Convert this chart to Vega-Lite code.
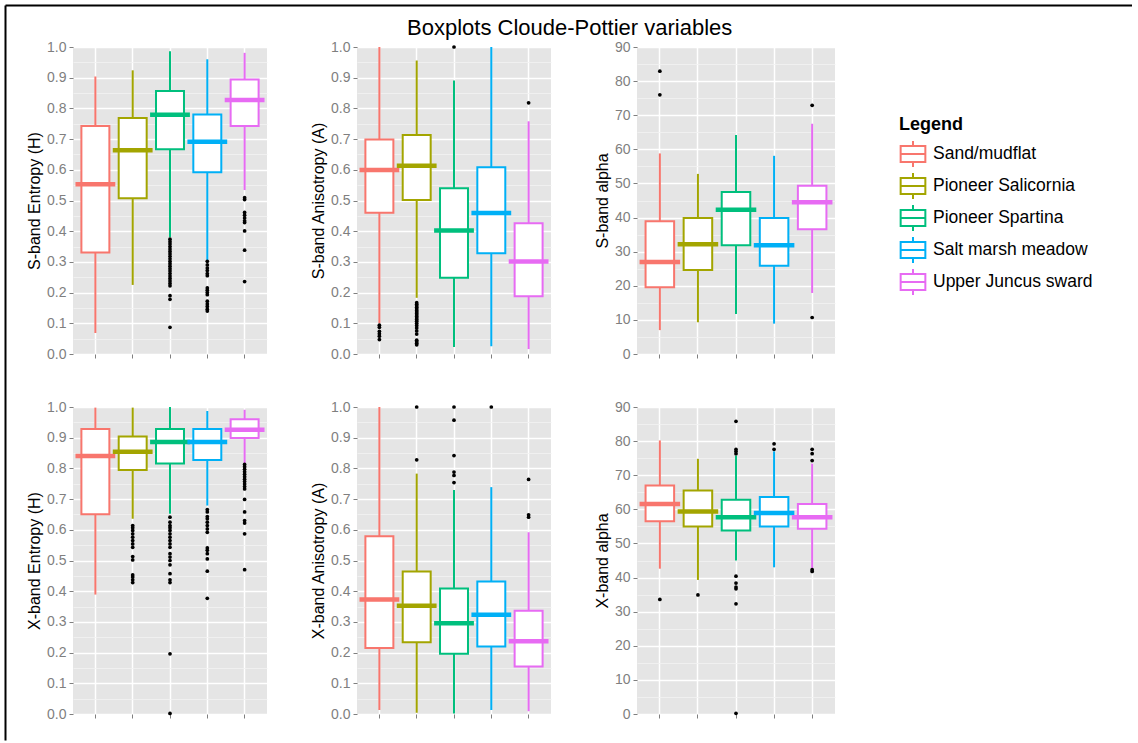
{
  "$schema": "https://vega.github.io/schema/vega-lite/v6.json",
  "padding": {"left": 5, "top": 5, "right": 0, "bottom": 0},
  "datasets": {
    "boxes": [
      {"v":"SH","g":"Sand/mudflat","lo":0.068,"q1":0.331,"med":0.553,"q3":0.743,"hi":0.904},
      {"v":"SH","g":"Pioneer Salicornia","lo":0.225,"q1":0.507,"med":0.664,"q3":0.769,"hi":0.924},
      {"v":"SH","g":"Pioneer Spartina","lo":0.38,"q1":0.667,"med":0.779,"q3":0.857,"hi":0.986},
      {"v":"SH","g":"Salt marsh meadow","lo":0.306,"q1":0.592,"med":0.691,"q3":0.78,"hi":0.96},
      {"v":"SH","g":"Upper Juncus sward","lo":0.534,"q1":0.743,"med":0.827,"q3":0.894,"hi":0.981},
      {"v":"SA","g":"Sand/mudflat","lo":0.1,"q1":0.46,"med":0.599,"q3":0.699,"hi":1.0},
      {"v":"SA","g":"Pioneer Salicornia","lo":0.183,"q1":0.502,"med":0.613,"q3":0.713,"hi":0.956},
      {"v":"SA","g":"Pioneer Spartina","lo":0.023,"q1":0.248,"med":0.402,"q3":0.54,"hi":0.891},
      {"v":"SA","g":"Salt marsh meadow","lo":0.025,"q1":0.328,"med":0.459,"q3":0.608,"hi":1.0},
      {"v":"SA","g":"Upper Juncus sward","lo":0.016,"q1":0.188,"med":0.301,"q3":0.426,"hi":0.758},
      {"v":"SP","g":"Sand/mudflat","lo":7.0,"q1":19.6,"med":27.0,"q3":38.9,"hi":58.8},
      {"v":"SP","g":"Pioneer Salicornia","lo":9.3,"q1":24.6,"med":32.2,"q3":39.9,"hi":52.8},
      {"v":"SP","g":"Pioneer Spartina","lo":11.7,"q1":31.9,"med":42.3,"q3":47.5,"hi":64.2},
      {"v":"SP","g":"Salt marsh meadow","lo":8.9,"q1":25.9,"med":31.9,"q3":39.9,"hi":58.1},
      {"v":"SP","g":"Upper Juncus sward","lo":17.9,"q1":36.6,"med":44.5,"q3":49.3,"hi":67.5},
      {"v":"XH","g":"Sand/mudflat","lo":0.389,"q1":0.651,"med":0.84,"q3":0.928,"hi":0.998},
      {"v":"XH","g":"Pioneer Salicornia","lo":0.636,"q1":0.795,"med":0.854,"q3":0.904,"hi":0.998},
      {"v":"XH","g":"Pioneer Spartina","lo":0.652,"q1":0.816,"med":0.886,"q3":0.928,"hi":1.0},
      {"v":"XH","g":"Salt marsh meadow","lo":0.679,"q1":0.827,"med":0.886,"q3":0.928,"hi":0.987},
      {"v":"XH","g":"Upper Juncus sward","lo":0.817,"q1":0.899,"med":0.926,"q3":0.96,"hi":0.991},
      {"v":"XA","g":"Sand/mudflat","lo":0.013,"q1":0.215,"med":0.373,"q3":0.579,"hi":1.0},
      {"v":"XA","g":"Pioneer Salicornia","lo":0.004,"q1":0.234,"med":0.353,"q3":0.464,"hi":0.783},
      {"v":"XA","g":"Pioneer Spartina","lo":0.002,"q1":0.196,"med":0.296,"q3":0.409,"hi":0.73},
      {"v":"XA","g":"Salt marsh meadow","lo":0.013,"q1":0.22,"med":0.323,"q3":0.432,"hi":0.739},
      {"v":"XA","g":"Upper Juncus sward","lo":0.009,"q1":0.155,"med":0.237,"q3":0.336,"hi":0.592},
      {"v":"XP","g":"Sand/mudflat","lo":42.6,"q1":56.5,"med":61.6,"q3":67.0,"hi":80.2},
      {"v":"XP","g":"Pioneer Salicornia","lo":39.3,"q1":55.0,"med":59.4,"q3":65.5,"hi":74.8},
      {"v":"XP","g":"Pioneer Spartina","lo":45.0,"q1":53.8,"med":57.7,"q3":62.8,"hi":75.8},
      {"v":"XP","g":"Salt marsh meadow","lo":43.0,"q1":55.0,"med":58.9,"q3":63.6,"hi":77.0},
      {"v":"XP","g":"Upper Juncus sward","lo":42.6,"q1":54.3,"med":57.7,"q3":61.6,"hi":73.4}
    ],
    "out": [
      {"v":"SH","g":"Pioneer Spartina","y":0.374},{"v":"SH","g":"Pioneer Spartina","y":0.366},{"v":"SH","g":"Pioneer Spartina","y":0.358},{"v":"SH","g":"Pioneer Spartina","y":0.35},{"v":"SH","g":"Pioneer Spartina","y":0.342},{"v":"SH","g":"Pioneer Spartina","y":0.334},{"v":"SH","g":"Pioneer Spartina","y":0.326},{"v":"SH","g":"Pioneer Spartina","y":0.318},{"v":"SH","g":"Pioneer Spartina","y":0.31},{"v":"SH","g":"Pioneer Spartina","y":0.302},{"v":"SH","g":"Pioneer Spartina","y":0.294},{"v":"SH","g":"Pioneer Spartina","y":0.286},{"v":"SH","g":"Pioneer Spartina","y":0.278},{"v":"SH","g":"Pioneer Spartina","y":0.27},{"v":"SH","g":"Pioneer Spartina","y":0.262},{"v":"SH","g":"Pioneer Spartina","y":0.254},{"v":"SH","g":"Pioneer Spartina","y":0.246},{"v":"SH","g":"Pioneer Spartina","y":0.238},{"v":"SH","g":"Pioneer Spartina","y":0.23},{"v":"SH","g":"Pioneer Spartina","y":0.222},{"v":"SH","g":"Pioneer Spartina","y":0.19},{"v":"SH","g":"Pioneer Spartina","y":0.178},{"v":"SH","g":"Pioneer Spartina","y":0.087},
      {"v":"SH","g":"Salt marsh meadow","y":0.302},{"v":"SH","g":"Salt marsh meadow","y":0.29},{"v":"SH","g":"Salt marsh meadow","y":0.28},{"v":"SH","g":"Salt marsh meadow","y":0.272},{"v":"SH","g":"Salt marsh meadow","y":0.262},{"v":"SH","g":"Salt marsh meadow","y":0.255},{"v":"SH","g":"Salt marsh meadow","y":0.215},{"v":"SH","g":"Salt marsh meadow","y":0.208},{"v":"SH","g":"Salt marsh meadow","y":0.2},{"v":"SH","g":"Salt marsh meadow","y":0.193},{"v":"SH","g":"Salt marsh meadow","y":0.172},{"v":"SH","g":"Salt marsh meadow","y":0.163},{"v":"SH","g":"Salt marsh meadow","y":0.155},{"v":"SH","g":"Salt marsh meadow","y":0.146},{"v":"SH","g":"Salt marsh meadow","y":0.14},
      {"v":"SH","g":"Upper Juncus sward","y":0.509},{"v":"SH","g":"Upper Juncus sward","y":0.503},{"v":"SH","g":"Upper Juncus sward","y":0.461},{"v":"SH","g":"Upper Juncus sward","y":0.452},{"v":"SH","g":"Upper Juncus sward","y":0.443},{"v":"SH","g":"Upper Juncus sward","y":0.434},{"v":"SH","g":"Upper Juncus sward","y":0.428},{"v":"SH","g":"Upper Juncus sward","y":0.401},{"v":"SH","g":"Upper Juncus sward","y":0.338},{"v":"SH","g":"Upper Juncus sward","y":0.236},
      {"v":"SA","g":"Sand/mudflat","y":0.094},{"v":"SA","g":"Sand/mudflat","y":0.087},{"v":"SA","g":"Sand/mudflat","y":0.074},{"v":"SA","g":"Sand/mudflat","y":0.066},{"v":"SA","g":"Sand/mudflat","y":0.058},{"v":"SA","g":"Sand/mudflat","y":0.047},
      {"v":"SA","g":"Pioneer Salicornia","y":0.167},{"v":"SA","g":"Pioneer Salicornia","y":0.162},{"v":"SA","g":"Pioneer Salicornia","y":0.157},{"v":"SA","g":"Pioneer Salicornia","y":0.152},{"v":"SA","g":"Pioneer Salicornia","y":0.147},{"v":"SA","g":"Pioneer Salicornia","y":0.142},{"v":"SA","g":"Pioneer Salicornia","y":0.137},{"v":"SA","g":"Pioneer Salicornia","y":0.132},{"v":"SA","g":"Pioneer Salicornia","y":0.127},{"v":"SA","g":"Pioneer Salicornia","y":0.122},{"v":"SA","g":"Pioneer Salicornia","y":0.117},{"v":"SA","g":"Pioneer Salicornia","y":0.112},{"v":"SA","g":"Pioneer Salicornia","y":0.107},{"v":"SA","g":"Pioneer Salicornia","y":0.1},{"v":"SA","g":"Pioneer Salicornia","y":0.093},{"v":"SA","g":"Pioneer Salicornia","y":0.085},{"v":"SA","g":"Pioneer Salicornia","y":0.075},{"v":"SA","g":"Pioneer Salicornia","y":0.065},{"v":"SA","g":"Pioneer Salicornia","y":0.045},{"v":"SA","g":"Pioneer Salicornia","y":0.04},{"v":"SA","g":"Pioneer Salicornia","y":0.035},{"v":"SA","g":"Pioneer Salicornia","y":0.03},
      {"v":"SA","g":"Pioneer Spartina","y":1.0},{"v":"SA","g":"Upper Juncus sward","y":0.818},
      {"v":"SP","g":"Sand/mudflat","y":82.9},{"v":"SP","g":"Sand/mudflat","y":76.0},{"v":"SP","g":"Upper Juncus sward","y":72.9},{"v":"SP","g":"Upper Juncus sward","y":10.7},
      {"v":"XH","g":"Pioneer Salicornia","y":0.614},{"v":"XH","g":"Pioneer Salicornia","y":0.607},{"v":"XH","g":"Pioneer Salicornia","y":0.598},{"v":"XH","g":"Pioneer Salicornia","y":0.587},{"v":"XH","g":"Pioneer Salicornia","y":0.576},{"v":"XH","g":"Pioneer Salicornia","y":0.565},{"v":"XH","g":"Pioneer Salicornia","y":0.554},{"v":"XH","g":"Pioneer Salicornia","y":0.543},{"v":"XH","g":"Pioneer Salicornia","y":0.513},{"v":"XH","g":"Pioneer Salicornia","y":0.502},{"v":"XH","g":"Pioneer Salicornia","y":0.453},{"v":"XH","g":"Pioneer Salicornia","y":0.446},{"v":"XH","g":"Pioneer Salicornia","y":0.437},{"v":"XH","g":"Pioneer Salicornia","y":0.428},
      {"v":"XH","g":"Pioneer Spartina","y":0.641},{"v":"XH","g":"Pioneer Spartina","y":0.625},{"v":"XH","g":"Pioneer Spartina","y":0.614},{"v":"XH","g":"Pioneer Spartina","y":0.607},{"v":"XH","g":"Pioneer Spartina","y":0.598},{"v":"XH","g":"Pioneer Spartina","y":0.587},{"v":"XH","g":"Pioneer Spartina","y":0.576},{"v":"XH","g":"Pioneer Spartina","y":0.565},{"v":"XH","g":"Pioneer Spartina","y":0.554},{"v":"XH","g":"Pioneer Spartina","y":0.543},{"v":"XH","g":"Pioneer Spartina","y":0.522},{"v":"XH","g":"Pioneer Spartina","y":0.511},{"v":"XH","g":"Pioneer Spartina","y":0.5},{"v":"XH","g":"Pioneer Spartina","y":0.486},{"v":"XH","g":"Pioneer Spartina","y":0.457},{"v":"XH","g":"Pioneer Spartina","y":0.437},{"v":"XH","g":"Pioneer Spartina","y":0.428},{"v":"XH","g":"Pioneer Spartina","y":0.196},{"v":"XH","g":"Pioneer Spartina","y":0.002},
      {"v":"XH","g":"Salt marsh meadow","y":0.666},{"v":"XH","g":"Salt marsh meadow","y":0.658},{"v":"XH","g":"Salt marsh meadow","y":0.643},{"v":"XH","g":"Salt marsh meadow","y":0.636},{"v":"XH","g":"Salt marsh meadow","y":0.625},{"v":"XH","g":"Salt marsh meadow","y":0.614},{"v":"XH","g":"Salt marsh meadow","y":0.603},{"v":"XH","g":"Salt marsh meadow","y":0.592},{"v":"XH","g":"Salt marsh meadow","y":0.541},{"v":"XH","g":"Salt marsh meadow","y":0.533},{"v":"XH","g":"Salt marsh meadow","y":0.522},{"v":"XH","g":"Salt marsh meadow","y":0.505},{"v":"XH","g":"Salt marsh meadow","y":0.465},{"v":"XH","g":"Salt marsh meadow","y":0.377},
      {"v":"XH","g":"Upper Juncus sward","y":0.813},{"v":"XH","g":"Upper Juncus sward","y":0.805},{"v":"XH","g":"Upper Juncus sward","y":0.797},{"v":"XH","g":"Upper Juncus sward","y":0.789},{"v":"XH","g":"Upper Juncus sward","y":0.781},{"v":"XH","g":"Upper Juncus sward","y":0.773},{"v":"XH","g":"Upper Juncus sward","y":0.765},{"v":"XH","g":"Upper Juncus sward","y":0.757},{"v":"XH","g":"Upper Juncus sward","y":0.749},{"v":"XH","g":"Upper Juncus sward","y":0.741},{"v":"XH","g":"Upper Juncus sward","y":0.733},{"v":"XH","g":"Upper Juncus sward","y":0.699},{"v":"XH","g":"Upper Juncus sward","y":0.658},{"v":"XH","g":"Upper Juncus sward","y":0.63},{"v":"XH","g":"Upper Juncus sward","y":0.622},{"v":"XH","g":"Upper Juncus sward","y":0.587},{"v":"XH","g":"Upper Juncus sward","y":0.47},
      {"v":"XA","g":"Pioneer Salicornia","y":1.0},{"v":"XA","g":"Pioneer Salicornia","y":0.828},
      {"v":"XA","g":"Pioneer Spartina","y":1.0},{"v":"XA","g":"Pioneer Spartina","y":0.957},{"v":"XA","g":"Pioneer Spartina","y":0.842},{"v":"XA","g":"Pioneer Spartina","y":0.788},{"v":"XA","g":"Pioneer Spartina","y":0.777},{"v":"XA","g":"Pioneer Spartina","y":0.754},
      {"v":"XA","g":"Salt marsh meadow","y":1.0},
      {"v":"XA","g":"Upper Juncus sward","y":0.764},{"v":"XA","g":"Upper Juncus sward","y":0.649},{"v":"XA","g":"Upper Juncus sward","y":0.641},
      {"v":"XP","g":"Sand/mudflat","y":33.6},{"v":"XP","g":"Pioneer Salicornia","y":34.9},
      {"v":"XP","g":"Pioneer Spartina","y":85.8},{"v":"XP","g":"Pioneer Spartina","y":77.6},{"v":"XP","g":"Pioneer Spartina","y":77.0},{"v":"XP","g":"Pioneer Spartina","y":76.3},{"v":"XP","g":"Pioneer Spartina","y":40.4},{"v":"XP","g":"Pioneer Spartina","y":38.4},{"v":"XP","g":"Pioneer Spartina","y":37.2},{"v":"XP","g":"Pioneer Spartina","y":36.7},{"v":"XP","g":"Pioneer Spartina","y":32.3},{"v":"XP","g":"Pioneer Spartina","y":0.2},
      {"v":"XP","g":"Salt marsh meadow","y":79.2},{"v":"XP","g":"Salt marsh meadow","y":77.6},
      {"v":"XP","g":"Upper Juncus sward","y":77.6},{"v":"XP","g":"Upper Juncus sward","y":76.3},{"v":"XP","g":"Upper Juncus sward","y":74.3},{"v":"XP","g":"Upper Juncus sward","y":42.3},{"v":"XP","g":"Upper Juncus sward","y":41.8}
    ]
  },
  "bounds": "flush",
  "spacing": 67,
  "hconcat": [
    {"width": 1, "height": 307, "view": {"fill": null, "stroke": null}, "data": {"values": []}, "mark": {"type": "point"},
     "encoding": {
       "x": {"field": "a", "type": "quantitative", "scale": {"domain": [0, 1], "range": [0, 1127]}, "axis": {"orient": "top", "offset": 42, "domain": true, "domainColor": "#000000", "domainWidth": 2, "ticks": false, "labels": false, "grid": false, "title": null}},
       "y": {"field": "b", "type": "quantitative", "scale": {"domain": [0, 1], "range": [693, -42]}, "axis": {"orient": "left", "domain": true, "domainColor": "#000000", "domainWidth": 2, "ticks": false, "labels": false, "grid": false, "title": null}}}},
    {
    "title": {"text": "Boxplots Cloude-Pottier variables", "fontSize": 22, "font": "Arial", "fontWeight": "normal", "color": "#000000", "anchor": "start", "frame": "group", "dx": 334, "offset": 0},
    "columns": 3,
    "spacing": {"row": 39, "column": 43},
    "concat": [
    {"width": 194, "height": 307,
     "encoding": {
       "x": {"field": "g", "type": "nominal", "sort": null, "scale": {"domain": ["Sand/mudflat","Pioneer Salicornia","Pioneer Spartina","Salt marsh meadow","Upper Juncus sward"], "paddingInner": 0, "paddingOuter": 0.1}, "axis": {"title": null, "labels": false, "domain": false, "grid": true, "gridColor": "#FFFFFF", "gridWidth": 1.5, "bandPosition": 0.5}},
       "color": {"field": "g", "type": "nominal", "scale": {"domain": ["Sand/mudflat","Pioneer Salicornia","Pioneer Spartina","Salt marsh meadow","Upper Juncus sward"], "range": ["#F8766D","#A3A500","#00BF7D","#00B0F6","#E76BF3"]}, "legend": {"title": "Legend", "orient": "none", "legendX": 894, "legendY": 69, "encode": {"symbols": {"update": {"fill": {"value": "#FFFFFF"}, "strokeWidth": {"value": 2}}}}}}},
     "layer": [
      {"data": {"name": "boxes"}, "transform": [{"filter": "datum.v == 'SH'"}], "mark": {"type": "rule", "strokeWidth": 2},
       "encoding": {"y": {"field": "lo", "type": "quantitative", "scale": {"domain": [0, 1], "nice": false}, "axis": {"title": "S-band Entropy (H)", "values": [0,0.05,0.1,0.15,0.2,0.25,0.3,0.35,0.4,0.45,0.5,0.55,0.6,0.65,0.7,0.75,0.8,0.85,0.9,0.95,1], "labelOverlap": false, "labelExpr": "round(datum.value*20)%2==1 ? '' : format(datum.value, '.1f')", "gridColor": {"condition": {"test": "round(datum.value*20)%2==1", "value": "#F2F2F2"}, "value": "#FFFFFF"}, "gridWidth": {"condition": {"test": "round(datum.value*20)%2==1", "value": 0.8}, "value": 1.5}, "tickOpacity": {"condition": {"test": "round(datum.value*20)%2==1", "value": 0}, "value": 1}}}, "y2": {"field": "hi"}}},
      {"data": {"name": "boxes"}, "transform": [{"filter": "datum.v == 'SH'"}], "mark": {"type": "bar", "filled": false, "fill": "#FFFFFF", "strokeWidth": 2, "width": {"band": 0.75}},
       "encoding": {"y": {"field": "q1", "type": "quantitative", "axis": {"title": "S-band Entropy (H)", "values": [0,0.05,0.1,0.15,0.2,0.25,0.3,0.35,0.4,0.45,0.5,0.55,0.6,0.65,0.7,0.75,0.8,0.85,0.9,0.95,1], "labelOverlap": false, "labelExpr": "round(datum.value*20)%2==1 ? '' : format(datum.value, '.1f')", "gridColor": {"condition": {"test": "round(datum.value*20)%2==1", "value": "#F2F2F2"}, "value": "#FFFFFF"}, "gridWidth": {"condition": {"test": "round(datum.value*20)%2==1", "value": 0.8}, "value": 1.5}, "tickOpacity": {"condition": {"test": "round(datum.value*20)%2==1", "value": 0}, "value": 1}}}, "y2": {"field": "q3"}}},
      {"data": {"name": "boxes"}, "transform": [{"filter": "datum.v == 'SH'"}], "mark": {"type": "tick", "filled": false, "thickness": 2, "strokeWidth": 2.5, "opacity": 1},
       "encoding": {"y": {"field": "med", "type": "quantitative", "axis": {"title": "S-band Entropy (H)", "values": [0,0.05,0.1,0.15,0.2,0.25,0.3,0.35,0.4,0.45,0.5,0.55,0.6,0.65,0.7,0.75,0.8,0.85,0.9,0.95,1], "labelOverlap": false, "labelExpr": "round(datum.value*20)%2==1 ? '' : format(datum.value, '.1f')", "gridColor": {"condition": {"test": "round(datum.value*20)%2==1", "value": "#F2F2F2"}, "value": "#FFFFFF"}, "gridWidth": {"condition": {"test": "round(datum.value*20)%2==1", "value": 0.8}, "value": 1.5}, "tickOpacity": {"condition": {"test": "round(datum.value*20)%2==1", "value": 0}, "value": 1}}}}},
      {"data": {"name": "out"}, "transform": [{"filter": "datum.v == 'SH'"}], "mark": {"type": "point", "filled": true, "opacity": 1, "size": 14},
       "encoding": {"color": {"value": "#000000"}, "y": {"field": "y", "type": "quantitative", "axis": {"title": "S-band Entropy (H)", "values": [0,0.05,0.1,0.15,0.2,0.25,0.3,0.35,0.4,0.45,0.5,0.55,0.6,0.65,0.7,0.75,0.8,0.85,0.9,0.95,1], "labelOverlap": false, "labelExpr": "round(datum.value*20)%2==1 ? '' : format(datum.value, '.1f')", "gridColor": {"condition": {"test": "round(datum.value*20)%2==1", "value": "#F2F2F2"}, "value": "#FFFFFF"}, "gridWidth": {"condition": {"test": "round(datum.value*20)%2==1", "value": 0.8}, "value": 1.5}, "tickOpacity": {"condition": {"test": "round(datum.value*20)%2==1", "value": 0}, "value": 1}}}}}
    ]},
    {"width": 194, "height": 307,
     "encoding": {
       "x": {"field": "g", "type": "nominal", "sort": null, "scale": {"domain": ["Sand/mudflat","Pioneer Salicornia","Pioneer Spartina","Salt marsh meadow","Upper Juncus sward"], "paddingInner": 0, "paddingOuter": 0.1}, "axis": {"title": null, "labels": false, "domain": false, "grid": true, "gridColor": "#FFFFFF", "gridWidth": 1.5, "bandPosition": 0.5}},
       "color": {"field": "g", "type": "nominal"}},
     "layer": [
      {"data": {"name": "boxes"}, "transform": [{"filter": "datum.v == 'SA'"}], "mark": {"type": "rule", "strokeWidth": 2},
       "encoding": {"y": {"field": "lo", "type": "quantitative", "scale": {"domain": [0, 1], "nice": false}, "axis": {"title": "S-band Anisotropy (A)", "values": [0,0.05,0.1,0.15,0.2,0.25,0.3,0.35,0.4,0.45,0.5,0.55,0.6,0.65,0.7,0.75,0.8,0.85,0.9,0.95,1], "labelOverlap": false, "labelExpr": "round(datum.value*20)%2==1 ? '' : format(datum.value, '.1f')", "gridColor": {"condition": {"test": "round(datum.value*20)%2==1", "value": "#F2F2F2"}, "value": "#FFFFFF"}, "gridWidth": {"condition": {"test": "round(datum.value*20)%2==1", "value": 0.8}, "value": 1.5}, "tickOpacity": {"condition": {"test": "round(datum.value*20)%2==1", "value": 0}, "value": 1}}}, "y2": {"field": "hi"}}},
      {"data": {"name": "boxes"}, "transform": [{"filter": "datum.v == 'SA'"}], "mark": {"type": "bar", "filled": false, "fill": "#FFFFFF", "strokeWidth": 2, "width": {"band": 0.75}},
       "encoding": {"y": {"field": "q1", "type": "quantitative", "axis": {"title": "S-band Anisotropy (A)", "values": [0,0.05,0.1,0.15,0.2,0.25,0.3,0.35,0.4,0.45,0.5,0.55,0.6,0.65,0.7,0.75,0.8,0.85,0.9,0.95,1], "labelOverlap": false, "labelExpr": "round(datum.value*20)%2==1 ? '' : format(datum.value, '.1f')", "gridColor": {"condition": {"test": "round(datum.value*20)%2==1", "value": "#F2F2F2"}, "value": "#FFFFFF"}, "gridWidth": {"condition": {"test": "round(datum.value*20)%2==1", "value": 0.8}, "value": 1.5}, "tickOpacity": {"condition": {"test": "round(datum.value*20)%2==1", "value": 0}, "value": 1}}}, "y2": {"field": "q3"}}},
      {"data": {"name": "boxes"}, "transform": [{"filter": "datum.v == 'SA'"}], "mark": {"type": "tick", "filled": false, "thickness": 2, "strokeWidth": 2.5, "opacity": 1},
       "encoding": {"y": {"field": "med", "type": "quantitative", "axis": {"title": "S-band Anisotropy (A)", "values": [0,0.05,0.1,0.15,0.2,0.25,0.3,0.35,0.4,0.45,0.5,0.55,0.6,0.65,0.7,0.75,0.8,0.85,0.9,0.95,1], "labelOverlap": false, "labelExpr": "round(datum.value*20)%2==1 ? '' : format(datum.value, '.1f')", "gridColor": {"condition": {"test": "round(datum.value*20)%2==1", "value": "#F2F2F2"}, "value": "#FFFFFF"}, "gridWidth": {"condition": {"test": "round(datum.value*20)%2==1", "value": 0.8}, "value": 1.5}, "tickOpacity": {"condition": {"test": "round(datum.value*20)%2==1", "value": 0}, "value": 1}}}}},
      {"data": {"name": "out"}, "transform": [{"filter": "datum.v == 'SA'"}], "mark": {"type": "point", "filled": true, "opacity": 1, "size": 14},
       "encoding": {"color": {"value": "#000000"}, "y": {"field": "y", "type": "quantitative", "axis": {"title": "S-band Anisotropy (A)", "values": [0,0.05,0.1,0.15,0.2,0.25,0.3,0.35,0.4,0.45,0.5,0.55,0.6,0.65,0.7,0.75,0.8,0.85,0.9,0.95,1], "labelOverlap": false, "labelExpr": "round(datum.value*20)%2==1 ? '' : format(datum.value, '.1f')", "gridColor": {"condition": {"test": "round(datum.value*20)%2==1", "value": "#F2F2F2"}, "value": "#FFFFFF"}, "gridWidth": {"condition": {"test": "round(datum.value*20)%2==1", "value": 0.8}, "value": 1.5}, "tickOpacity": {"condition": {"test": "round(datum.value*20)%2==1", "value": 0}, "value": 1}}}}}
    ]},
    {"width": 198, "height": 307,
     "encoding": {
       "x": {"field": "g", "type": "nominal", "sort": null, "scale": {"domain": ["Sand/mudflat","Pioneer Salicornia","Pioneer Spartina","Salt marsh meadow","Upper Juncus sward"], "paddingInner": 0, "paddingOuter": 0.1}, "axis": {"title": null, "labels": false, "domain": false, "grid": true, "gridColor": "#FFFFFF", "gridWidth": 1.5, "bandPosition": 0.5}},
       "color": {"field": "g", "type": "nominal"}},
     "layer": [
      {"data": {"name": "boxes"}, "transform": [{"filter": "datum.v == 'SP'"}], "mark": {"type": "rule", "strokeWidth": 2},
       "encoding": {"y": {"field": "lo", "type": "quantitative", "scale": {"domain": [0, 90], "nice": false}, "axis": {"title": "S-band alpha", "values": [0,5,10,15,20,25,30,35,40,45,50,55,60,65,70,75,80,85,90], "labelOverlap": false, "labelExpr": "datum.value%10!=0 ? '' : format(datum.value, 'd')", "gridColor": {"condition": {"test": "datum.value%10!=0", "value": "#F2F2F2"}, "value": "#FFFFFF"}, "gridWidth": {"condition": {"test": "datum.value%10!=0", "value": 0.8}, "value": 1.5}, "tickOpacity": {"condition": {"test": "datum.value%10!=0", "value": 0}, "value": 1}}}, "y2": {"field": "hi"}}},
      {"data": {"name": "boxes"}, "transform": [{"filter": "datum.v == 'SP'"}], "mark": {"type": "bar", "filled": false, "fill": "#FFFFFF", "strokeWidth": 2, "width": {"band": 0.75}},
       "encoding": {"y": {"field": "q1", "type": "quantitative", "axis": {"title": "S-band alpha", "values": [0,5,10,15,20,25,30,35,40,45,50,55,60,65,70,75,80,85,90], "labelOverlap": false, "labelExpr": "datum.value%10!=0 ? '' : format(datum.value, 'd')", "gridColor": {"condition": {"test": "datum.value%10!=0", "value": "#F2F2F2"}, "value": "#FFFFFF"}, "gridWidth": {"condition": {"test": "datum.value%10!=0", "value": 0.8}, "value": 1.5}, "tickOpacity": {"condition": {"test": "datum.value%10!=0", "value": 0}, "value": 1}}}, "y2": {"field": "q3"}}},
      {"data": {"name": "boxes"}, "transform": [{"filter": "datum.v == 'SP'"}], "mark": {"type": "tick", "filled": false, "thickness": 2, "strokeWidth": 2.5, "opacity": 1},
       "encoding": {"y": {"field": "med", "type": "quantitative", "axis": {"title": "S-band alpha", "values": [0,5,10,15,20,25,30,35,40,45,50,55,60,65,70,75,80,85,90], "labelOverlap": false, "labelExpr": "datum.value%10!=0 ? '' : format(datum.value, 'd')", "gridColor": {"condition": {"test": "datum.value%10!=0", "value": "#F2F2F2"}, "value": "#FFFFFF"}, "gridWidth": {"condition": {"test": "datum.value%10!=0", "value": 0.8}, "value": 1.5}, "tickOpacity": {"condition": {"test": "datum.value%10!=0", "value": 0}, "value": 1}}}}},
      {"data": {"name": "out"}, "transform": [{"filter": "datum.v == 'SP'"}], "mark": {"type": "point", "filled": true, "opacity": 1, "size": 14},
       "encoding": {"color": {"value": "#000000"}, "y": {"field": "y", "type": "quantitative", "axis": {"title": "S-band alpha", "values": [0,5,10,15,20,25,30,35,40,45,50,55,60,65,70,75,80,85,90], "labelOverlap": false, "labelExpr": "datum.value%10!=0 ? '' : format(datum.value, 'd')", "gridColor": {"condition": {"test": "datum.value%10!=0", "value": "#F2F2F2"}, "value": "#FFFFFF"}, "gridWidth": {"condition": {"test": "datum.value%10!=0", "value": 0.8}, "value": 1.5}, "tickOpacity": {"condition": {"test": "datum.value%10!=0", "value": 0}, "value": 1}}}}}
    ]},
    {"width": 194, "height": 307,
     "encoding": {
       "x": {"field": "g", "type": "nominal", "sort": null, "scale": {"domain": ["Sand/mudflat","Pioneer Salicornia","Pioneer Spartina","Salt marsh meadow","Upper Juncus sward"], "paddingInner": 0, "paddingOuter": 0.1}, "axis": {"title": null, "labels": false, "domain": false, "grid": true, "gridColor": "#FFFFFF", "gridWidth": 1.5, "bandPosition": 0.5}},
       "color": {"field": "g", "type": "nominal"}},
     "layer": [
      {"data": {"name": "boxes"}, "transform": [{"filter": "datum.v == 'XH'"}], "mark": {"type": "rule", "strokeWidth": 2},
       "encoding": {"y": {"field": "lo", "type": "quantitative", "scale": {"domain": [0, 1], "nice": false}, "axis": {"title": "X-band Entropy (H)", "values": [0,0.05,0.1,0.15,0.2,0.25,0.3,0.35,0.4,0.45,0.5,0.55,0.6,0.65,0.7,0.75,0.8,0.85,0.9,0.95,1], "labelOverlap": false, "labelExpr": "round(datum.value*20)%2==1 ? '' : format(datum.value, '.1f')", "gridColor": {"condition": {"test": "round(datum.value*20)%2==1", "value": "#F2F2F2"}, "value": "#FFFFFF"}, "gridWidth": {"condition": {"test": "round(datum.value*20)%2==1", "value": 0.8}, "value": 1.5}, "tickOpacity": {"condition": {"test": "round(datum.value*20)%2==1", "value": 0}, "value": 1}}}, "y2": {"field": "hi"}}},
      {"data": {"name": "boxes"}, "transform": [{"filter": "datum.v == 'XH'"}], "mark": {"type": "bar", "filled": false, "fill": "#FFFFFF", "strokeWidth": 2, "width": {"band": 0.75}},
       "encoding": {"y": {"field": "q1", "type": "quantitative", "axis": {"title": "X-band Entropy (H)", "values": [0,0.05,0.1,0.15,0.2,0.25,0.3,0.35,0.4,0.45,0.5,0.55,0.6,0.65,0.7,0.75,0.8,0.85,0.9,0.95,1], "labelOverlap": false, "labelExpr": "round(datum.value*20)%2==1 ? '' : format(datum.value, '.1f')", "gridColor": {"condition": {"test": "round(datum.value*20)%2==1", "value": "#F2F2F2"}, "value": "#FFFFFF"}, "gridWidth": {"condition": {"test": "round(datum.value*20)%2==1", "value": 0.8}, "value": 1.5}, "tickOpacity": {"condition": {"test": "round(datum.value*20)%2==1", "value": 0}, "value": 1}}}, "y2": {"field": "q3"}}},
      {"data": {"name": "boxes"}, "transform": [{"filter": "datum.v == 'XH'"}], "mark": {"type": "tick", "filled": false, "thickness": 2, "strokeWidth": 2.5, "opacity": 1},
       "encoding": {"y": {"field": "med", "type": "quantitative", "axis": {"title": "X-band Entropy (H)", "values": [0,0.05,0.1,0.15,0.2,0.25,0.3,0.35,0.4,0.45,0.5,0.55,0.6,0.65,0.7,0.75,0.8,0.85,0.9,0.95,1], "labelOverlap": false, "labelExpr": "round(datum.value*20)%2==1 ? '' : format(datum.value, '.1f')", "gridColor": {"condition": {"test": "round(datum.value*20)%2==1", "value": "#F2F2F2"}, "value": "#FFFFFF"}, "gridWidth": {"condition": {"test": "round(datum.value*20)%2==1", "value": 0.8}, "value": 1.5}, "tickOpacity": {"condition": {"test": "round(datum.value*20)%2==1", "value": 0}, "value": 1}}}}},
      {"data": {"name": "out"}, "transform": [{"filter": "datum.v == 'XH'"}], "mark": {"type": "point", "filled": true, "opacity": 1, "size": 14},
       "encoding": {"color": {"value": "#000000"}, "y": {"field": "y", "type": "quantitative", "axis": {"title": "X-band Entropy (H)", "values": [0,0.05,0.1,0.15,0.2,0.25,0.3,0.35,0.4,0.45,0.5,0.55,0.6,0.65,0.7,0.75,0.8,0.85,0.9,0.95,1], "labelOverlap": false, "labelExpr": "round(datum.value*20)%2==1 ? '' : format(datum.value, '.1f')", "gridColor": {"condition": {"test": "round(datum.value*20)%2==1", "value": "#F2F2F2"}, "value": "#FFFFFF"}, "gridWidth": {"condition": {"test": "round(datum.value*20)%2==1", "value": 0.8}, "value": 1.5}, "tickOpacity": {"condition": {"test": "round(datum.value*20)%2==1", "value": 0}, "value": 1}}}}}
    ]},
    {"width": 194, "height": 307,
     "encoding": {
       "x": {"field": "g", "type": "nominal", "sort": null, "scale": {"domain": ["Sand/mudflat","Pioneer Salicornia","Pioneer Spartina","Salt marsh meadow","Upper Juncus sward"], "paddingInner": 0, "paddingOuter": 0.1}, "axis": {"title": null, "labels": false, "domain": false, "grid": true, "gridColor": "#FFFFFF", "gridWidth": 1.5, "bandPosition": 0.5}},
       "color": {"field": "g", "type": "nominal"}},
     "layer": [
      {"data": {"name": "boxes"}, "transform": [{"filter": "datum.v == 'XA'"}], "mark": {"type": "rule", "strokeWidth": 2},
       "encoding": {"y": {"field": "lo", "type": "quantitative", "scale": {"domain": [0, 1], "nice": false}, "axis": {"title": "X-band Anisotropy (A)", "values": [0,0.05,0.1,0.15,0.2,0.25,0.3,0.35,0.4,0.45,0.5,0.55,0.6,0.65,0.7,0.75,0.8,0.85,0.9,0.95,1], "labelOverlap": false, "labelExpr": "round(datum.value*20)%2==1 ? '' : format(datum.value, '.1f')", "gridColor": {"condition": {"test": "round(datum.value*20)%2==1", "value": "#F2F2F2"}, "value": "#FFFFFF"}, "gridWidth": {"condition": {"test": "round(datum.value*20)%2==1", "value": 0.8}, "value": 1.5}, "tickOpacity": {"condition": {"test": "round(datum.value*20)%2==1", "value": 0}, "value": 1}}}, "y2": {"field": "hi"}}},
      {"data": {"name": "boxes"}, "transform": [{"filter": "datum.v == 'XA'"}], "mark": {"type": "bar", "filled": false, "fill": "#FFFFFF", "strokeWidth": 2, "width": {"band": 0.75}},
       "encoding": {"y": {"field": "q1", "type": "quantitative", "axis": {"title": "X-band Anisotropy (A)", "values": [0,0.05,0.1,0.15,0.2,0.25,0.3,0.35,0.4,0.45,0.5,0.55,0.6,0.65,0.7,0.75,0.8,0.85,0.9,0.95,1], "labelOverlap": false, "labelExpr": "round(datum.value*20)%2==1 ? '' : format(datum.value, '.1f')", "gridColor": {"condition": {"test": "round(datum.value*20)%2==1", "value": "#F2F2F2"}, "value": "#FFFFFF"}, "gridWidth": {"condition": {"test": "round(datum.value*20)%2==1", "value": 0.8}, "value": 1.5}, "tickOpacity": {"condition": {"test": "round(datum.value*20)%2==1", "value": 0}, "value": 1}}}, "y2": {"field": "q3"}}},
      {"data": {"name": "boxes"}, "transform": [{"filter": "datum.v == 'XA'"}], "mark": {"type": "tick", "filled": false, "thickness": 2, "strokeWidth": 2.5, "opacity": 1},
       "encoding": {"y": {"field": "med", "type": "quantitative", "axis": {"title": "X-band Anisotropy (A)", "values": [0,0.05,0.1,0.15,0.2,0.25,0.3,0.35,0.4,0.45,0.5,0.55,0.6,0.65,0.7,0.75,0.8,0.85,0.9,0.95,1], "labelOverlap": false, "labelExpr": "round(datum.value*20)%2==1 ? '' : format(datum.value, '.1f')", "gridColor": {"condition": {"test": "round(datum.value*20)%2==1", "value": "#F2F2F2"}, "value": "#FFFFFF"}, "gridWidth": {"condition": {"test": "round(datum.value*20)%2==1", "value": 0.8}, "value": 1.5}, "tickOpacity": {"condition": {"test": "round(datum.value*20)%2==1", "value": 0}, "value": 1}}}}},
      {"data": {"name": "out"}, "transform": [{"filter": "datum.v == 'XA'"}], "mark": {"type": "point", "filled": true, "opacity": 1, "size": 14},
       "encoding": {"color": {"value": "#000000"}, "y": {"field": "y", "type": "quantitative", "axis": {"title": "X-band Anisotropy (A)", "values": [0,0.05,0.1,0.15,0.2,0.25,0.3,0.35,0.4,0.45,0.5,0.55,0.6,0.65,0.7,0.75,0.8,0.85,0.9,0.95,1], "labelOverlap": false, "labelExpr": "round(datum.value*20)%2==1 ? '' : format(datum.value, '.1f')", "gridColor": {"condition": {"test": "round(datum.value*20)%2==1", "value": "#F2F2F2"}, "value": "#FFFFFF"}, "gridWidth": {"condition": {"test": "round(datum.value*20)%2==1", "value": 0.8}, "value": 1.5}, "tickOpacity": {"condition": {"test": "round(datum.value*20)%2==1", "value": 0}, "value": 1}}}}}
    ]},
    {"width": 198, "height": 307,
     "encoding": {
       "x": {"field": "g", "type": "nominal", "sort": null, "scale": {"domain": ["Sand/mudflat","Pioneer Salicornia","Pioneer Spartina","Salt marsh meadow","Upper Juncus sward"], "paddingInner": 0, "paddingOuter": 0.1}, "axis": {"title": null, "labels": false, "domain": false, "grid": true, "gridColor": "#FFFFFF", "gridWidth": 1.5, "bandPosition": 0.5}},
       "color": {"field": "g", "type": "nominal"}},
     "layer": [
      {"data": {"name": "boxes"}, "transform": [{"filter": "datum.v == 'XP'"}], "mark": {"type": "rule", "strokeWidth": 2},
       "encoding": {"y": {"field": "lo", "type": "quantitative", "scale": {"domain": [0, 90], "nice": false}, "axis": {"title": "X-band alpha", "values": [0,5,10,15,20,25,30,35,40,45,50,55,60,65,70,75,80,85,90], "labelOverlap": false, "labelExpr": "datum.value%10!=0 ? '' : format(datum.value, 'd')", "gridColor": {"condition": {"test": "datum.value%10!=0", "value": "#F2F2F2"}, "value": "#FFFFFF"}, "gridWidth": {"condition": {"test": "datum.value%10!=0", "value": 0.8}, "value": 1.5}, "tickOpacity": {"condition": {"test": "datum.value%10!=0", "value": 0}, "value": 1}}}, "y2": {"field": "hi"}}},
      {"data": {"name": "boxes"}, "transform": [{"filter": "datum.v == 'XP'"}], "mark": {"type": "bar", "filled": false, "fill": "#FFFFFF", "strokeWidth": 2, "width": {"band": 0.75}},
       "encoding": {"y": {"field": "q1", "type": "quantitative", "axis": {"title": "X-band alpha", "values": [0,5,10,15,20,25,30,35,40,45,50,55,60,65,70,75,80,85,90], "labelOverlap": false, "labelExpr": "datum.value%10!=0 ? '' : format(datum.value, 'd')", "gridColor": {"condition": {"test": "datum.value%10!=0", "value": "#F2F2F2"}, "value": "#FFFFFF"}, "gridWidth": {"condition": {"test": "datum.value%10!=0", "value": 0.8}, "value": 1.5}, "tickOpacity": {"condition": {"test": "datum.value%10!=0", "value": 0}, "value": 1}}}, "y2": {"field": "q3"}}},
      {"data": {"name": "boxes"}, "transform": [{"filter": "datum.v == 'XP'"}], "mark": {"type": "tick", "filled": false, "thickness": 2, "strokeWidth": 2.5, "opacity": 1},
       "encoding": {"y": {"field": "med", "type": "quantitative", "axis": {"title": "X-band alpha", "values": [0,5,10,15,20,25,30,35,40,45,50,55,60,65,70,75,80,85,90], "labelOverlap": false, "labelExpr": "datum.value%10!=0 ? '' : format(datum.value, 'd')", "gridColor": {"condition": {"test": "datum.value%10!=0", "value": "#F2F2F2"}, "value": "#FFFFFF"}, "gridWidth": {"condition": {"test": "datum.value%10!=0", "value": 0.8}, "value": 1.5}, "tickOpacity": {"condition": {"test": "datum.value%10!=0", "value": 0}, "value": 1}}}}},
      {"data": {"name": "out"}, "transform": [{"filter": "datum.v == 'XP'"}], "mark": {"type": "point", "filled": true, "opacity": 1, "size": 14},
       "encoding": {"color": {"value": "#000000"}, "y": {"field": "y", "type": "quantitative", "axis": {"title": "X-band alpha", "values": [0,5,10,15,20,25,30,35,40,45,50,55,60,65,70,75,80,85,90], "labelOverlap": false, "labelExpr": "datum.value%10!=0 ? '' : format(datum.value, 'd')", "gridColor": {"condition": {"test": "datum.value%10!=0", "value": "#F2F2F2"}, "value": "#FFFFFF"}, "gridWidth": {"condition": {"test": "datum.value%10!=0", "value": 0.8}, "value": 1.5}, "tickOpacity": {"condition": {"test": "datum.value%10!=0", "value": 0}, "value": 1}}}}}
    ]}
    ]}
  ],
  "config": {
    "font": "Arial",
    "view": {"fill": "#E5E5E5", "stroke": null},
    "axis": {"labelFont": "Arial", "labelFontSize": 14, "labelColor": "#7F7F7F", "titleFont": "Arial", "titleFontSize": 16, "titleFontWeight": "normal", "titleColor": "#000000", "tickColor": "#7F7F7F", "tickSize": 4, "tickWidth": 1, "domain": false, "labelPadding": 3, "titlePadding": 4},
    "legend": {"titleFont": "Arial", "titleFontSize": 18, "titleFontWeight": "bold", "titleColor": "#000000", "labelFont": "Arial", "labelFontSize": 17.5, "labelColor": "#000000", "symbolType": "M0,-1L0,-0.62M-0.95,-0.62L0.95,-0.62L0.95,0.62L-0.95,0.62ZM-0.95,0L0.95,0M0,0.62L0,1", "symbolSize": 676, "symbolStrokeWidth": 2, "symbolFillColor": "#FFFFFF", "rowPadding": -2, "labelOffset": 6, "titlePadding": 6}
  }
}
